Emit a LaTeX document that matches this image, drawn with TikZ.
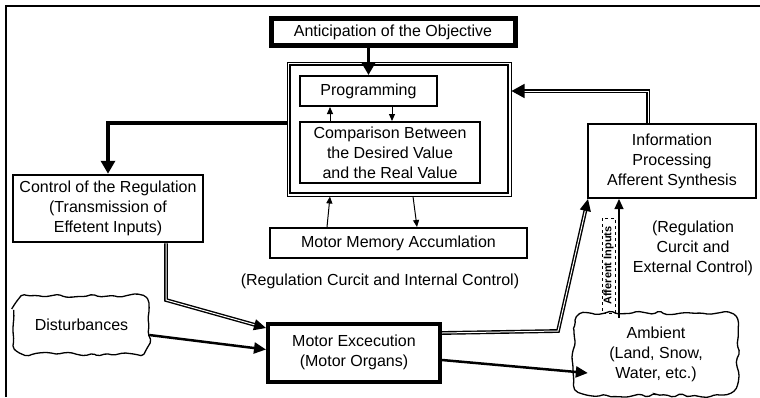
\documentclass[tikz,border=0pt]{standalone}
\usepackage{fontspec}
\setmainfont{Liberation Sans}
\usetikzlibrary{arrows.meta,calc,decorations.pathmorphing}
\begin{document}
\begin{tikzpicture}[x=1pt,y=-1pt,
  txt/.style={font=\fontsize{16}{20}\selectfont, align=center},
  box/.style={txt, draw, line width=2pt, inner sep=0pt},
  cloud/.style={txt, inner sep=0pt},
  cloudline/.style={line width=1.3pt, rounded corners=2pt,
    decoration={random steps, segment length=7pt, amplitude=2.2pt}},
  bigarrow/.style={line width=3.5pt, -{Triangle[width=14pt,length=13pt]}},
  midarrow/.style={line width=2.5pt, -{Triangle[width=11pt,length=12pt]}},
  dblarrow/.style={double, double distance=1pt, line width=1.4pt, -{Triangle[width=11pt,length=12pt]}},
  thinarrow/.style={line width=1.2pt, -{Triangle[width=9pt,length=10pt]}},
  smallarrow/.style={line width=1pt, -{Triangle[width=6pt,length=7pt]}}]
\useasboundingbox (0,0) rectangle (760,397);

% frame
\draw[line width=2pt] (6,397) |- (760,6);

% nodes
\node[box, line width=5pt, minimum width=244pt, minimum height=27pt] (ant) at (393,32) {Anticipation of the Objective};
\node[draw, line width=1pt, minimum width=224pt, minimum height=134pt, inner sep=0pt] (big) at (399,129) {};
\draw[line width=2.5pt] ($(big.north west)+(3.5,3.5)$) rectangle ($(big.south east)+(-3.5,-3.5)$);
\node[box, minimum width=137pt, minimum height=30pt] (prog) at (368.5,91) {Programming};
\node[box, minimum width=180pt, minimum height=61pt] (comp) at (390,152.5) {Comparison Between\\the Desired Value\\and the Real Value};
\node[box, line width=2.5pt, minimum width=190pt, minimum height=67pt] (ctrl) at (108,208.5) {Control of the Regulation\\(Transmission of\\Effetent Inputs)};
\node[box, minimum width=168pt, minimum height=74pt] (info) at (672,161) {Information\\Processing\\Afferent Synthesis};
\node[box, minimum width=257pt, minimum height=30pt] (mem) at (398.5,243) {Motor Memory Accumlation};
\node[box, line width=4pt, minimum width=172pt, minimum height=58pt] (motor) at (354,352.5) {Motor Excecution\\(Motor Organs)};
\node[txt] (intl) at (380,281) {(Regulation Curcit and Internal Control)};
\node[txt] (extl) at (693,248) {(Regulation\\Curcit and\\External Control)};

% cloud-like outlines
\pgfmathsetseed{11}
\node[cloud, minimum width=135pt, minimum height=58pt] (dist) at (81.5,325) {Disturbances};
\node[cloud, minimum width=164pt, minimum height=82pt] (amb) at (656,354) {Ambient\\(Land, Snow,\\Water, etc.)};
\draw[cloudline] decorate {[rounded corners=14pt] (dist.north west) rectangle (dist.south east)};
\draw[cloudline] decorate {[rounded corners=16pt] (amb.north west) rectangle (amb.south east)};

\node[draw, dashed, line width=1pt, rotate=90, minimum width=95pt, minimum height=13pt, inner sep=0pt,
  font=\fontsize{11}{11}\selectfont\bfseries] (aff) at (608.5,265.5) {Afferent Inputs};

% connectors
\draw[bigarrow] (prog.north |- ant.south) -- (prog.north);
\draw[bigarrow] ($(big.west)+(0,-6)$) -| (ctrl.north);
\draw[dblarrow, -{Triangle[width=14pt,length=13pt]}] ($(info.north)+(-24,0)$) |- (big.east |- prog.center);
\draw[smallarrow] ($(comp.north)+(-60,0)$) -- ($(prog.south)+(-38.5,0)$);
\draw[smallarrow] ($(prog.south)+(23.5,0)$) -- ($(comp.north)+(2,0)$);
\draw[smallarrow] ($(mem.north)+(-71.5,0)$) -- ($(big.south)+(-69,0)$);
\draw[smallarrow] ($(big.south)+(14,0)$) -- ($(mem.north)+(18.5,0)$);

\coordinate (c1) at (166,300);
\draw[dblarrow] (ctrl.south -| c1) -- (c1) -- ($(motor.west)+(0,-24.5)$);
\draw[midarrow] ($(dist.east)+(0,10)$) -- ($(motor.west)+(0,-3)$);
\coordinate (c2) at (558,331);
\draw[dblarrow] ($(motor.east)+(0,-19.5)$) -- (c2) -- ($(info.south west)+(1,0)$);
\draw[midarrow] ($(motor.east)+(0,7.5)$) -- ($(amb.west)+(14,19)$);
\draw[thinarrow] ($(amb.north)+(-37,5)$) -- ($(info.south)+(-53,0)$);
\end{tikzpicture}
\end{document}
